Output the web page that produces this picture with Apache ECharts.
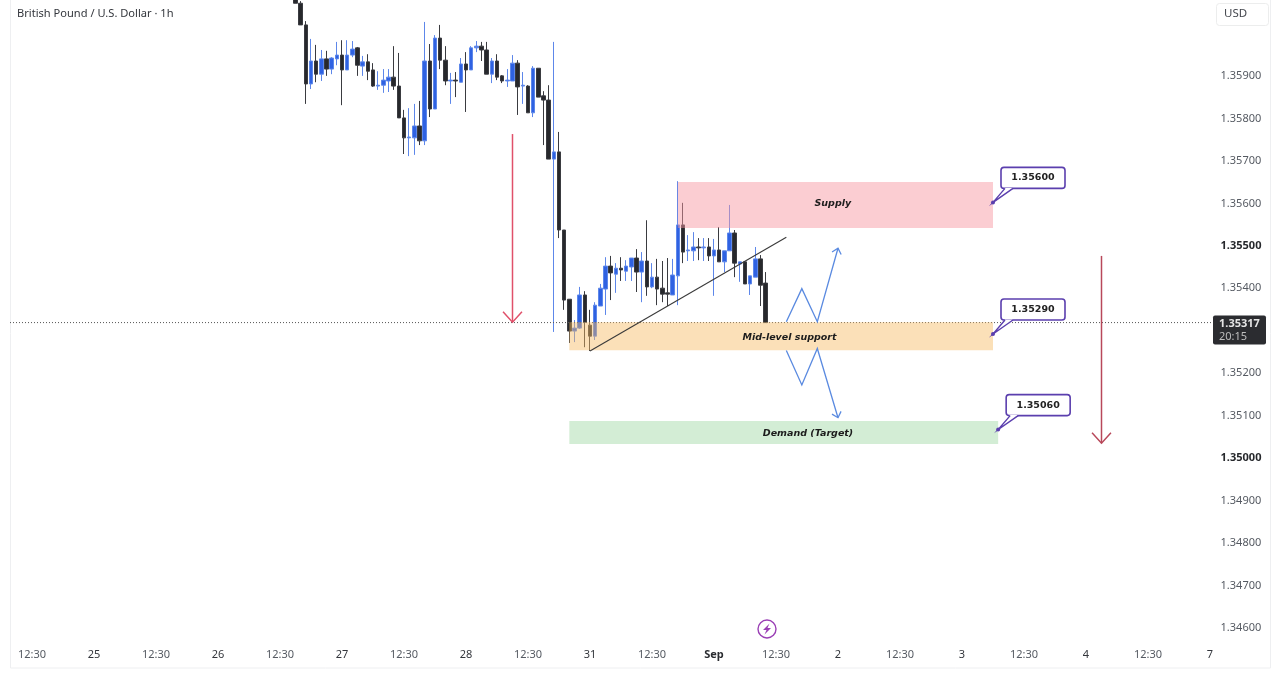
<!DOCTYPE html>
<html>
<head>
<meta charset="utf-8">
<title>GBP/USD 1h</title>
<style>
html,body{margin:0;padding:0;background:#fff;}
#main{width:1280px;height:680px;}
</style>
<script src="https://cdn.jsdelivr.net/npm/echarts@6/dist/echarts.min.js"></script>
</head>
<body>
<div id="main"></div>
<script>
// hourly slots on the x axis, the visible candles start at slot 55
const slotCount = 233;
const firstCandle = 55;

const opens = [1.36084,1.36069,1.36018,1.35879,1.35933,1.35902,1.35938,1.35914,1.35938,1.35947,1.35912,1.35947,1.35964,1.35921,1.35931,1.35912,1.35874,1.35876,1.35886,1.35895,1.35874,1.35799,1.35752,1.35752,1.35780,1.35745,1.35933,1.35820,1.35987,1.35935,1.35886,1.35888,1.35883,1.35926,1.35912,1.35964,1.35968,1.35959,1.35902,1.35933,1.35898,1.35886,1.35886,1.35928,1.35874,1.35874,1.35811,1.35916,1.35851,1.35841,1.35702,1.35719,1.35535,1.35372,1.35297,1.35304,1.35382,1.35311,1.35285,1.35356,1.35396,1.35450,1.35431,1.35445,1.35438,1.35448,1.35469,1.35436,1.35462,1.35401,1.35424,1.35398,1.35387,1.35382,1.35427,1.35547,1.35486,1.35486,1.35495,1.35493,1.35495,1.35474,1.35488,1.35460,1.35486,1.35528,1.35455,1.35460,1.35408,1.35424,1.35467,1.35410];
const closes = [1.36069,1.36018,1.35879,1.35933,1.35902,1.35938,1.35914,1.35940,1.35947,1.35912,1.35947,1.35961,1.35923,1.35931,1.35909,1.35874,1.35876,1.35888,1.35895,1.35874,1.35799,1.35752,1.35754,1.35780,1.35745,1.35933,1.35820,1.35987,1.35935,1.35886,1.35888,1.35886,1.35926,1.35912,1.35964,1.35968,1.35959,1.35902,1.35933,1.35895,1.35886,1.35888,1.35928,1.35872,1.35876,1.35811,1.35916,1.35848,1.35841,1.35702,1.35719,1.35535,1.35370,1.35297,1.35304,1.35382,1.35318,1.35285,1.35358,1.35398,1.35450,1.35434,1.35445,1.35441,1.35450,1.35469,1.35436,1.35462,1.35401,1.35424,1.35396,1.35384,1.35384,1.35429,1.35547,1.35483,1.35488,1.35495,1.35493,1.35495,1.35474,1.35488,1.35460,1.35486,1.35528,1.35457,1.35460,1.35408,1.35427,1.35467,1.35405,1.35317];
const lows = [1.36069,1.36018,1.35832,1.35867,1.35883,1.35886,1.35898,1.35902,1.35923,1.35829,1.35912,1.35942,1.35898,1.35898,1.35888,1.35872,1.35865,1.35858,1.35860,1.35865,1.35799,1.35714,1.35709,1.35712,1.35735,1.35735,1.35801,1.35820,1.35914,1.35876,1.35832,1.35848,1.35883,1.35813,1.35912,1.35954,1.35933,1.35902,1.35881,1.35888,1.35881,1.35872,1.35886,1.35806,1.35832,1.35811,1.35801,1.35848,1.35735,1.35702,1.35295,1.35516,1.35347,1.35269,1.35271,1.35302,1.35259,1.35250,1.35276,1.35356,1.35335,1.35370,1.35387,1.35415,1.35415,1.35415,1.35389,1.35365,1.35380,1.35398,1.35358,1.35365,1.35356,1.35382,1.35358,1.35457,1.35462,1.35462,1.35464,1.35462,1.35462,1.35380,1.35460,1.35436,1.35486,1.35424,1.35413,1.35408,1.35382,1.35424,1.35356,1.35317];
const highs = [1.36100,1.36074,1.36027,1.35985,1.35971,1.35959,1.35957,1.35942,1.35978,1.35982,1.35982,1.35980,1.35966,1.35945,1.35949,1.35928,1.35909,1.35914,1.35914,1.35968,1.35952,1.35818,1.35822,1.35832,1.35839,1.36025,1.35973,1.35994,1.36018,1.35968,1.35905,1.35907,1.35940,1.35954,1.35968,1.35980,1.35978,1.35978,1.35940,1.35949,1.35900,1.35914,1.35947,1.35935,1.35907,1.35876,1.35921,1.35916,1.35862,1.35876,1.35978,1.35766,1.35535,1.35372,1.35323,1.35401,1.35391,1.35347,1.35365,1.35408,1.35471,1.35474,1.35457,1.35471,1.35464,1.35469,1.35490,1.35483,1.35558,1.35457,1.35467,1.35462,1.35469,1.35467,1.35650,1.35599,1.35523,1.35530,1.35516,1.35516,1.35516,1.35514,1.35542,1.35486,1.35594,1.35535,1.35460,1.35462,1.35427,1.35495,1.35476,1.35436];

// time axis labels, one every 12 slots from slot 4
const timeLabels = ['12:30','25','12:30','26','12:30','27','12:30','28','12:30','31','12:30','Sep','12:30','2','12:30','3','12:30','4','12:30','7'];
const boldPrices = ['1.35500','1.35000'];
const hiddenPrices = ['1.36100','1.36000','1.34500'];

const lastPrice = 1.35317;
const lastTag = '20:15';

// supply / support / demand boxes
const zoneNames = ['Supply','Mid-level support','Demand (Target)'];
const zoneFrom = [129,108,108];
const zoneTo = [190,190,191];
const zoneHigh = [1.35648,1.35318,1.35085];
const zoneLow = [1.35540,1.35252,1.35031];
const zoneTextAt = [159,151,154];

// hand drawn lines, [slot, price]
const trendLine = [[112,1.35250],[150,1.35518]];
const dropArrow = [[97,1.35761],[97,1.35318]];
const targetArrow = [[211,1.35474],[211,1.35033]];
const bounceUp = [[150,1.35319],[153,1.35397],[156,1.35319],[160,1.35492]];
const breakDown = [[150,1.35251],[153,1.35170],[156,1.35256],[160,1.35093]];

const calloutText = ['1.35600','1.35290','1.35060'];
const calloutSlot = [190,190,191];
const calloutPrice = [1.35600,1.35290,1.35065];

const uiFont = '"Noto Sans", sans-serif';
const noteFont = '"DejaVu Sans", sans-serif';

const myChart = echarts.init(document.getElementById('main'), null, {renderer:'canvas'});

const categories = [];
for (let i = 0; i < slotCount; i++) categories.push(String(i));

const candleData = categories.map(function(c, i){
	const k = i - firstCandle;
	if (k < 0 || k >= opens.length) return ['-','-','-','-'];
	return [opens[k], closes[k], lows[k], highs[k]];
});

const zoneColors = ['rgba(246,150,160,0.48)','rgba(246,187,98,0.45)','rgba(150,212,155,0.42)'];
const zoneTextShift = [[0,-1],[-2,1],[1,1]];

function renderZone(params, api){
	const i = params.dataIndex;
	const a = api.coord([zoneFrom[i], zoneHigh[i]]);
	const b = api.coord([zoneTo[i], zoneLow[i]]);
	const t = api.coord([zoneTextAt[i], (zoneHigh[i]+zoneLow[i])/2]);
	return {type:'group', children:[
		{type:'rect', shape:{x:a[0], y:a[1], width:b[0]-a[0], height:b[1]-a[1]}, style:{fill:zoneColors[i]}},
		{type:'text', style:{text:zoneNames[i], x:t[0]+zoneTextShift[i][0], y:t[1]+zoneTextShift[i][1], align:'center', verticalAlign:'middle',
			fontFamily:noteFont, fontSize:9.5, fontWeight:'bold', fontStyle:'italic', fill:'#1c1c1c'}}
	]};
}

const drawnPaths = [trendLine, dropArrow, targetArrow, bounceUp, breakDown];
const pathColors = ['#3a3a3a','#e0506a','#b8485a','#5a8ae0','#5a8ae0'];
const pathWidths = [1.1,1.5,1.5,1.3,1.3];
const pathHeads = [0,14,14,7,7];

function renderPath(params, api){
	const i = params.dataIndex;
	const pts = drawnPaths[i].map(function(p){ return api.coord(p); });
	const style = {stroke:pathColors[i], lineWidth:pathWidths[i], fill:null};
	const children = [{type:'polyline', shape:{points:pts}, style:style}];
	if (pathHeads[i]) {
		const end = pts[pts.length-1], prev = pts[pts.length-2];
		const ang = Math.atan2(end[1]-prev[1], end[0]-prev[0]);
		const s = pathHeads[i];
		children.push({type:'polyline', shape:{points:[
			[end[0]+s*Math.cos(ang+2.4), end[1]+s*Math.sin(ang+2.4)],
			end,
			[end[0]+s*Math.cos(ang-2.4), end[1]+s*Math.sin(ang-2.4)]
		]}, style:style});
	}
	return {type:'group', children:children};
}

function renderCallout(params, api){
	const i = params.dataIndex;
	const p = api.coord([calloutSlot[i], calloutPrice[i]]);
	const x = p[0], y = p[1];
	const purple = '#5b3fae';
	return {type:'group', children:[
		{type:'rect', shape:{x:x+8, y:y-35, width:64, height:21, r:3}, style:{fill:'#fff', stroke:purple, lineWidth:1.6}},
		{type:'polygon', shape:{points:[[x+12,y-14.5],[x+20,y-14.5],[x,y]]}, style:{fill:'#fff'}},
		{type:'polyline', shape:{points:[[x+12,y-14],[x,y],[x+20,y-14]]}, style:{stroke:purple, lineWidth:1.4, fill:null}},
		{type:'circle', shape:{cx:x, cy:y, r:2}, style:{fill:purple}},
		{type:'text', style:{text:calloutText[i], x:x+40, y:y-24.5, align:'center', verticalAlign:'middle',
			fontFamily:noteFont, fontSize:9.5, fontWeight:'bold', fill:'#222'}}
	]};
}

function renderLast(params, api){
	const y = api.coord([0, lastPrice])[1];
	return {type:'group', children:[
		{type:'line', shape:{x1:10, y1:y, x2:1213, y2:y}, style:{stroke:'#555', lineWidth:1, lineDash:[1,2]}},
		{type:'rect', shape:{x:1213, y:y-7, width:53, height:29, r:2}, style:{fill:'#2b2c30'}},
		{type:'text', style:{text:lastPrice.toFixed(5), x:1219, y:y+1, verticalAlign:'middle', fontFamily:uiFont, fontSize:11, fontWeight:'bold', fill:'#e4e4e4'}},
		{type:'text', style:{text:lastTag, x:1219, y:y+14, verticalAlign:'middle', fontFamily:uiFont, fontSize:11, fill:'#bdbdbd'}}
	]};
}

const option = {
	animation:false,
	backgroundColor:'#fff',
	grid:{left:8.75, top:-9.9, width:1203.83, height:679.4, outerBoundsMode:'none'},
	xAxis:{
		type:'category',
		data:categories,
		boundaryGap:true,
		axisLine:{show:false},
		axisTick:{show:false},
		splitLine:{show:false},
		axisLabel:{
			inside:true,
			margin:9,
			interval:function(i){ return (i-4)%12 === 0 && i >= 4; },
			formatter:function(v, i){
				const t = timeLabels[(i-4)/12];
				if (t === 'Sep') return '{sep|Sep}';
				if (t === '12:30') return '{time|12:30}';
				return '{day|'+t+'}';
			},
			rich:{
				time:{fontFamily:uiFont, fontSize:11, color:'#555a62'},
				day:{fontFamily:uiFont, fontSize:11, color:'#33363c'},
				sep:{fontFamily:uiFont, fontSize:11, fontWeight:'bold', color:'#2a2c30'}
			}
		}
	},
	yAxis:{
		type:'value',
		position:'right',
		min:1.345,
		max:1.361,
		interval:0.001,
		axisLine:{show:false},
		axisTick:{show:false},
		splitLine:{show:false},
		axisLabel:{
			margin:8,
			formatter:function(v){
				const s = v.toFixed(5);
				if (hiddenPrices.indexOf(s) >= 0) return '';
				return boldPrices.indexOf(s) >= 0 ? '{strong|'+s+'}' : '{plain|'+s+'}';
			},
			rich:{
				plain:{fontFamily:uiFont, fontSize:11, color:'#555a62', padding:[2,0,0,0]},
				strong:{fontFamily:uiFont, fontSize:11, fontWeight:'bold', color:'#26282c', padding:[2,0,0,0]}
			}
		}
	},
	series:[
		{
			type:'candlestick',
			data:candleData,
			barWidth:4,
			itemStyle:{color:'#2f62e2', color0:'#27282c', borderColor:'#5d87ea', borderColor0:'#3a3b40', borderWidth:1}
		},
		{type:'custom', z:4, clip:false, silent:true, encode:{x:0,y:1},
			data:[[0, lastPrice]], renderItem:renderLast},
		{type:'custom', z:5, clip:false, silent:true, encode:{x:0,y:1},
			data:zoneFrom.map(function(f,i){ return [f, zoneHigh[i]]; }), renderItem:renderZone},
		{type:'custom', z:6, clip:false, silent:true, encode:{x:0,y:1},
			data:drawnPaths.map(function(p){ return p[0]; }), renderItem:renderPath},
		{type:'custom', z:7, clip:false, silent:true, encode:{x:0,y:1},
			data:calloutSlot.map(function(s,i){ return [s, calloutPrice[i]]; }), renderItem:renderCallout}
	],
	graphic:[
		{type:'rect', silent:true, z:-1, shape:{x:10.5, y:-2, width:1260, height:670}, style:{fill:null, stroke:'#eeeff1', lineWidth:1}},
		{type:'text', left:17, top:8, style:{text:'British Pound / U.S. Dollar \u00b7 1h', fontFamily:uiFont, fontSize:11.1, fill:'#33363c'}},
		{type:'rect', silent:true, shape:{x:1216.5, y:3.5, width:52, height:22, r:3}, style:{fill:'#fff', stroke:'#eceded', lineWidth:1}},
		{type:'text', left:1224, top:8, style:{text:'USD', fontFamily:uiFont, fontSize:11.5, fill:'#44474e'}},
		{type:'circle', silent:true, shape:{cx:767, cy:629, r:9}, style:{fill:'#fff', stroke:'#9a3fb5', lineWidth:1.4}},
		{type:'polygon', silent:true, shape:{points:[[769.5,623.5],[763,630],[766.5,630],[764.5,634.5],[771,628],[767.5,628]]}, style:{fill:'#9a3fb5'}}
	]
};

myChart.setOption(option);
</script>
</body>
</html>
